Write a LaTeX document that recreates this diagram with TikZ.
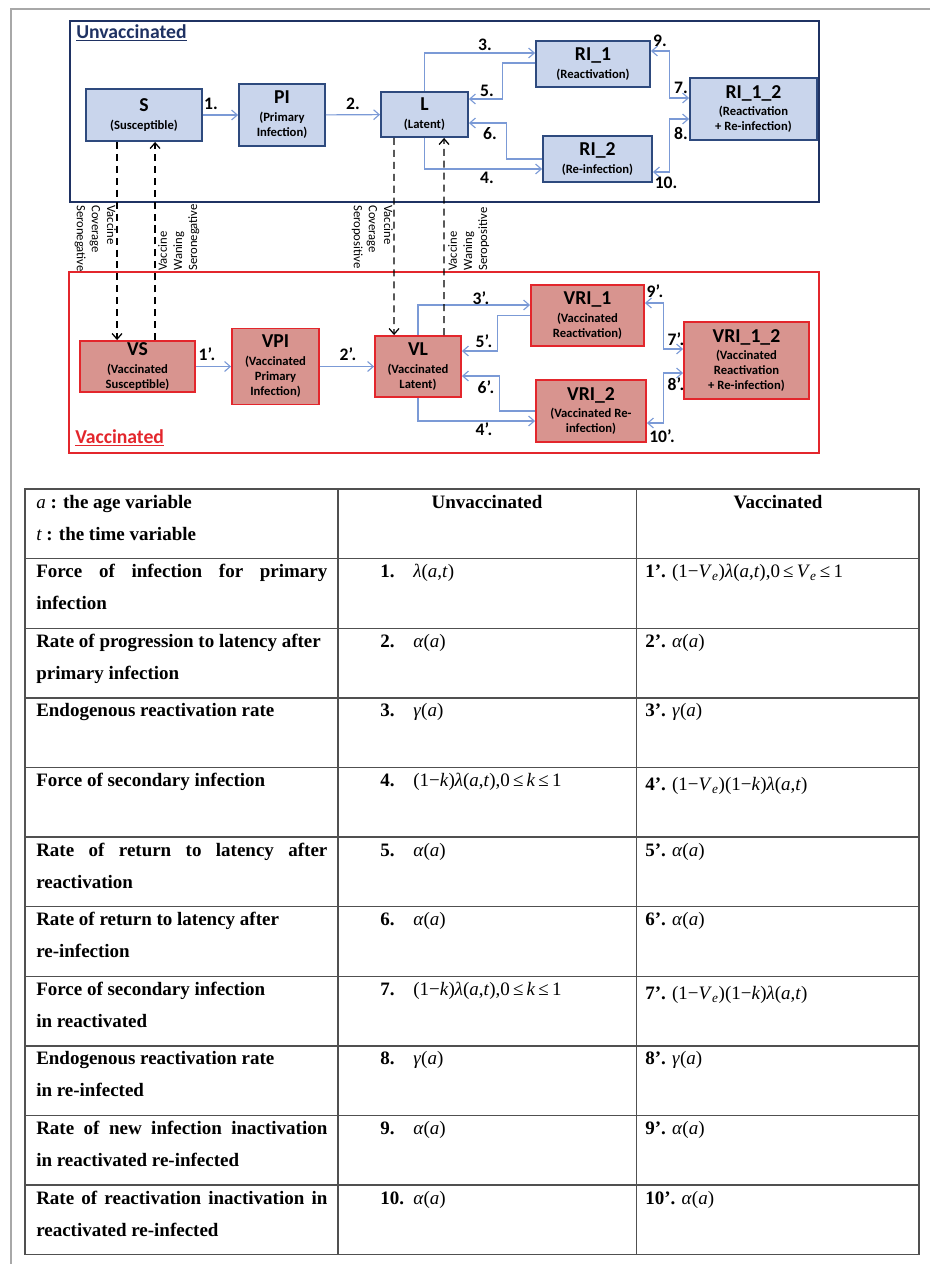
\documentclass[tikz,border=0pt]{standalone}
\usepackage{fontspec}
\setmainfont{Liberation Serif}
\newfontfamily\diag{Carlito}
\usepackage{xcolor}
\usetikzlibrary{arrows.meta,calc,positioning}

\definecolor{unavy}{HTML}{1F3263}
\definecolor{uedge}{HTML}{2E4A7E}
\definecolor{ufill}{HTML}{C9D5EC}
\definecolor{vred}{HTML}{E3262C}
\definecolor{vfill}{HTML}{D8948F}
\definecolor{flowblue}{HTML}{7B9AD6}
\definecolor{tabline}{HTML}{505050}
\definecolor{pagegray}{HTML}{A8A8A8}

\newcommand{\ntitle}[1]{{\fontsize{14}{14}\selectfont #1}\\[2pt]}
\newcommand{\jline}[1]{\makebox[207pt][s]{#1}}
\newcommand{\rnum}[1]{\makebox[23.5pt][l]{#1}\mdseries}
\newcommand{\rVe}{\textit{V}\textsubscript{\textit{e}}}
\newcommand{\rlam}{\textit{λ}(\textit{a},\textit{t})}
\newcommand{\ralpha}{\textit{α}(\textit{a})}
\newcommand{\rgamma}{\textit{γ}(\textit{a})}
\newcommand{\rk}{(1−\textit{k})}

\begin{document}
\begin{tikzpicture}[x=0.025cm,y=-0.025cm,>={Straight Barb[length=4pt,width=7pt]},
    ubox/.style={draw=uedge, fill=ufill, line width=1.3pt, align=center, inner sep=1pt, font=\diag\bfseries\fontsize{9}{10.7}\selectfont},
    vbox/.style={ubox, draw=vred, fill=vfill},
    flow/.style={draw=flowblue, line width=0.8pt, ->},
    flowb/.style={draw=flowblue, line width=0.8pt, <->},
    vacc/.style={draw=black, line width=0.9pt, dash pattern=on 5pt off 3.5pt, ->},
    num/.style={font=\diag\bfseries\fontsize{12.5}{12.5}\selectfont, inner sep=0pt},
    side/.style={font=\diag\fontsize{9}{10.7}\selectfont, align=left, inner sep=0pt, anchor=north west},
    cell/.style={anchor=base west, inner sep=0pt, font=\fontsize{13.5}{16}\selectfont\bfseries}]
    \useasboundingbox (0,0) rectangle (930,1264);
    \draw[pagegray, line width=0.8pt] (930,9) -- (11,9) -- (11,1264);

    \draw[unavy, line width=1.5pt] (70,21) rectangle (819,202);
    \draw[vred, line width=1.2pt] (69,272) rectangle (819,453);
    \node (utag) at (76,33) [anchor=west, inner sep=0pt, text=unavy, font=\diag\bfseries\fontsize{14}{14}\selectfont] {\underline{Unvaccinated}};
    \node (vtag) at (75,438) [anchor=west, inner sep=0pt, text=vred, font=\diag\bfseries\fontsize{14}{14}\selectfont] {\underline{Vaccinated}};

    \node (S) at (144,115) [ubox, minimum width=2.9cm, minimum height=1.3cm] {\ntitle{S}(Susceptible)};
    \node (PI) at (282,115) [ubox, minimum width=2.15cm, minimum height=1.55cm] {\ntitle{PI}(Primary\\Infection)};
    \node (L) at (424.5,114.5) [ubox, minimum width=2.175cm, minimum height=1.125cm] {\ntitle{L}(Latent)};
    \node (RI1) at (593,64) [ubox, minimum width=2.85cm, minimum height=1.15cm] {\ntitle{RI\_1}(Reactivation)};
    \node (RI2) at (597.5,159) [ubox, minimum width=2.725cm, minimum height=1.15cm] {\ntitle{RI\_2}(Re-infection)};
    \node (RI12) at (753.5,109) [ubox, minimum width=3.175cm, minimum height=1.55cm] {\ntitle{RI\_1\_2}(Reactivation\\+ Re-infection)};

    \node (VS) at (137.5,366.5) [vbox, minimum width=2.875cm, minimum height=1.275cm] {\ntitle{VS}(Vaccinated\\Susceptible)};
    \node (VPI) at (275.5,366.5) [vbox, minimum width=2.175cm, minimum height=1.9cm] {\ntitle{VPI}(Vaccinated\\Primary\\Infection)};
    \node (VL) at (418,366.5) [vbox, minimum width=2.15cm, minimum height=1.525cm] {\ntitle{VL}(Vaccinated\\Latent)};
    \node (VRI1) at (587.5,315.5) [vbox, minimum width=2.825cm, minimum height=1.525cm] {\ntitle{VRI\_1}(Vaccinated\\Reactivation)};
    \node (VRI2) at (591,411) [vbox, minimum width=2.75cm, minimum height=1.55cm] {\ntitle{VRI\_2}(Vaccinated Re-\\infection)};
    \node (VRI12) at (746.5,360.5) [vbox, minimum width=3.125cm, minimum height=1.925cm] {\ntitle{VRI\_1\_2}(Vaccinated\\Reactivation\\+ Re-infection)};

    \draw[flow] (S) -- (PI);
    \draw[flow] (PI) -- (L);
    \draw[flow] (L.north) |- ($(RI1.west)+(0,-11)$);
    \draw[flow] ($(RI1.west)+(0,-1)$) -| ($(L.east)+(34,-15.5)$) -- ($(L.east)+(0,-15.5)$);
    \draw[flow] (RI2.west) -| ($(L.east)+(38,8.5)$) -- ($(L.east)+(0,8.5)$);
    \draw[flow] (L.south) |- ($(RI2.west)+(0,10)$);
    \draw[flowb] ($(RI1.east)+(0,-13)$) -| ($(RI12.west)+(-20,-11)$) -- ($(RI12.west)+(0,-11)$);
    \draw[flowb] ($(RI2.east)+(0,13)$) -| ($(RI12.west)+(-20,10)$) -- ($(RI12.west)+(0,10)$);

    \draw[flow] (VS) -- (VPI);
    \draw[flow] (VPI) -- (VL);
    \draw[flow] (VL.north) |- ($(VRI1.west)+(0,-10.5)$);
    \draw[flow] (VRI1.west) -| ($(VL.east)+(36,-15.5)$) -- ($(VL.east)+(0,-15.5)$);
    \draw[flow] (VRI2.west) -| ($(VL.east)+(38,9.5)$) -- ($(VL.east)+(0,9.5)$);
    \draw[flow] (VL.south) |- ($(VRI2.west)+(0,10)$);
    \draw[flowb] ($(VRI1.east)+(0,-12.5)$) -| ($(VRI12.west)+(-20,-11.5)$) -- ($(VRI12.west)+(0,-11.5)$);
    \draw[flowb] ($(VRI2.east)+(0,12)$) -| ($(VRI12.west)+(-20,12.5)$) -- ($(VRI12.west)+(0,12.5)$);

    \draw[vacc] ($(S.south west)+(32,0)$) -- ($(VS.north west)+(38,0)$);
    \draw[vacc] ($(VS.north west)+(76,0)$) -- ($(S.south west)+(70,0)$);
    \draw[vacc] ($(L.south west)+(14,0)$) -- ($(VL.north west)+(20,0)$);
    \draw[vacc] ($(VL.north west)+(70,0)$) -- ($(L.south west)+(64,0)$);

    \node (cov1) at (116,205) [side, rotate=-90] {Vaccine\\Coverage\\Seronegative};
    \node (wan1) at (158,271) [side, rotate=90] {Vaccine\\Waning\\Seronegative};
    \node (cov2) at (393,205) [side, rotate=-90] {Vaccine\\Coverage\\Seropositive};
    \node (wan2) at (448,271) [side, rotate=90] {Vaccine\\Waning\\Seropositive};

    \node (n1) at (211,104) [num] {1.};
    \node (n2) at (353,104) [num] {2.};
    \node (n3) at (485,45) [num] {3.};
    \node (n5) at (487,91) [num] {5.};
    \node (n6) at (490,134) [num] {6.};
    \node (n4) at (487,178) [num] {4.};
    \node (n9) at (660,41) [num] {9.};
    \node (n7) at (681,88) [num] {7.};
    \node (n8) at (681,133) [num] {8.};
    \node (n10) at (666,183) [num] {10.};
    \node (m1) at (207,354) [num] {1’.};
    \node (m2) at (348,354) [num] {2’.};
    \node (m3) at (481,298) [num] {3’.};
    \node (m5) at (484,341) [num] {5’.};
    \node (m6) at (486,387) [num] {6’.};
    \node (m4) at (484,429) [num] {4’.};
    \node (m9) at (655,291) [num] {9’.};
    \node (m7) at (676,339) [num] {7’.};
    \node (m8) at (676,384) [num] {8’.};
    \node (m10) at (662,436) [num] {10’.};

    \draw[tabline, line width=1pt] (25,489) rectangle (919,1254.6);
    \draw[tabline, line width=1pt] (338,489) -- (338,1254.6);
    \draw[tabline, line width=1pt] (636.5,489) -- (636.5,1254.6);
    \draw[tabline, line width=1pt] (25,558.6) -- (919,558.6);
    \draw[tabline, line width=1pt] (25,628.2) -- (919,628.2);
    \draw[tabline, line width=1pt] (25,697.8) -- (919,697.8);
    \draw[tabline, line width=1pt] (25,767.4) -- (919,767.4);
    \draw[tabline, line width=1pt] (25,837) -- (919,837);
    \draw[tabline, line width=1pt] (25,906.6) -- (919,906.6);
    \draw[tabline, line width=1pt] (25,976.2) -- (919,976.2);
    \draw[tabline, line width=1pt] (25,1045.8) -- (919,1045.8);
    \draw[tabline, line width=1pt] (25,1115.4) -- (919,1115.4);
    \draw[tabline, line width=1pt] (25,1185) -- (919,1185);

    \node (ha) at (36,508) [cell] {{\mdseries\itshape a} : the age variable};
    \node (ht) at (36,540) [cell] {{\mdseries\itshape t} : the time variable};
    \node (hu) at (487,508) [cell, anchor=base] {Unvaccinated};
    \node (hv) at (778,508) [cell, anchor=base] {Vaccinated};

    \node (f1a) at (36,577.6) [cell] {\jline{Force of infection for primary}};
    \node (f1b) at (36,609.6) [cell] {infection};
    \node (u1) at (380,577.6) [cell] {\rnum{1.}\rlam};
    \node (v1) at (645,577.6) [cell] {1’. \mdseries(1−\rVe)\rlam,0\,≤\,\rVe\,≤\,1};

    \node (f2a) at (36,647.2) [cell] {Rate of progression to latency after};
    \node (f2b) at (36,679.2) [cell] {primary infection};
    \node (u2) at (380,647.2) [cell] {\rnum{2.}\ralpha};
    \node (v2) at (645,647.2) [cell] {2’. \mdseries\ralpha};

    \node (f3a) at (36,716.8) [cell] {Endogenous reactivation rate};
    \node (u3) at (380,716.8) [cell] {\rnum{3.}\rgamma};
    \node (v3) at (645,716.8) [cell] {3’. \mdseries\rgamma};

    \node (f4a) at (36,786.4) [cell] {Force of secondary infection};
    \node (u4) at (380,786.4) [cell] {\rnum{4.}\rk\rlam,0\,≤\,\textit{k}\,≤\,1};
    \node (v4) at (645,790.4) [cell] {4’. \mdseries(1−\rVe)\rk\rlam};

    \node (f5a) at (36,856) [cell] {\jline{Rate of return to latency after}};
    \node (f5b) at (36,888) [cell] {reactivation};
    \node (u5) at (380,856) [cell] {\rnum{5.}\ralpha};
    \node (v5) at (645,856) [cell] {5’. \mdseries\ralpha};

    \node (f6a) at (36,925.6) [cell] {Rate of return to latency after};
    \node (f6b) at (36,957.6) [cell] {re-infection};
    \node (u6) at (380,925.6) [cell] {\rnum{6.}\ralpha};
    \node (v6) at (645,925.6) [cell] {6’. \mdseries\ralpha};

    \node (f7a) at (36,995.2) [cell] {Force of secondary infection};
    \node (f7b) at (36,1027.2) [cell] {in reactivated};
    \node (u7) at (380,995.2) [cell] {\rnum{7.}\rk\rlam,0\,≤\,\textit{k}\,≤\,1};
    \node (v7) at (645,999.2) [cell] {7’. \mdseries(1−\rVe)\rk\rlam};

    \node (f8a) at (36,1064.8) [cell] {Endogenous reactivation rate};
    \node (f8b) at (36,1096.8) [cell] {in re-infected};
    \node (u8) at (380,1064.8) [cell] {\rnum{8.}\rgamma};
    \node (v8) at (645,1064.8) [cell] {8’. \mdseries\rgamma};

    \node (f9a) at (36,1134.4) [cell] {\jline{Rate of new infection inactivation}};
    \node (f9b) at (36,1166.4) [cell] {in reactivated re-infected};
    \node (u9) at (380,1134.4) [cell] {\rnum{9.}\ralpha};
    \node (v9) at (645,1134.4) [cell] {9’. \mdseries\ralpha};

    \node (f10a) at (36,1204) [cell] {\jline{Rate of reactivation inactivation in}};
    \node (f10b) at (36,1236) [cell] {reactivated re-infected};
    \node (u10) at (380,1204) [cell] {\rnum{10.}\ralpha};
    \node (v10) at (645,1204) [cell] {10’. \mdseries\ralpha};
\end{tikzpicture}
\end{document}
